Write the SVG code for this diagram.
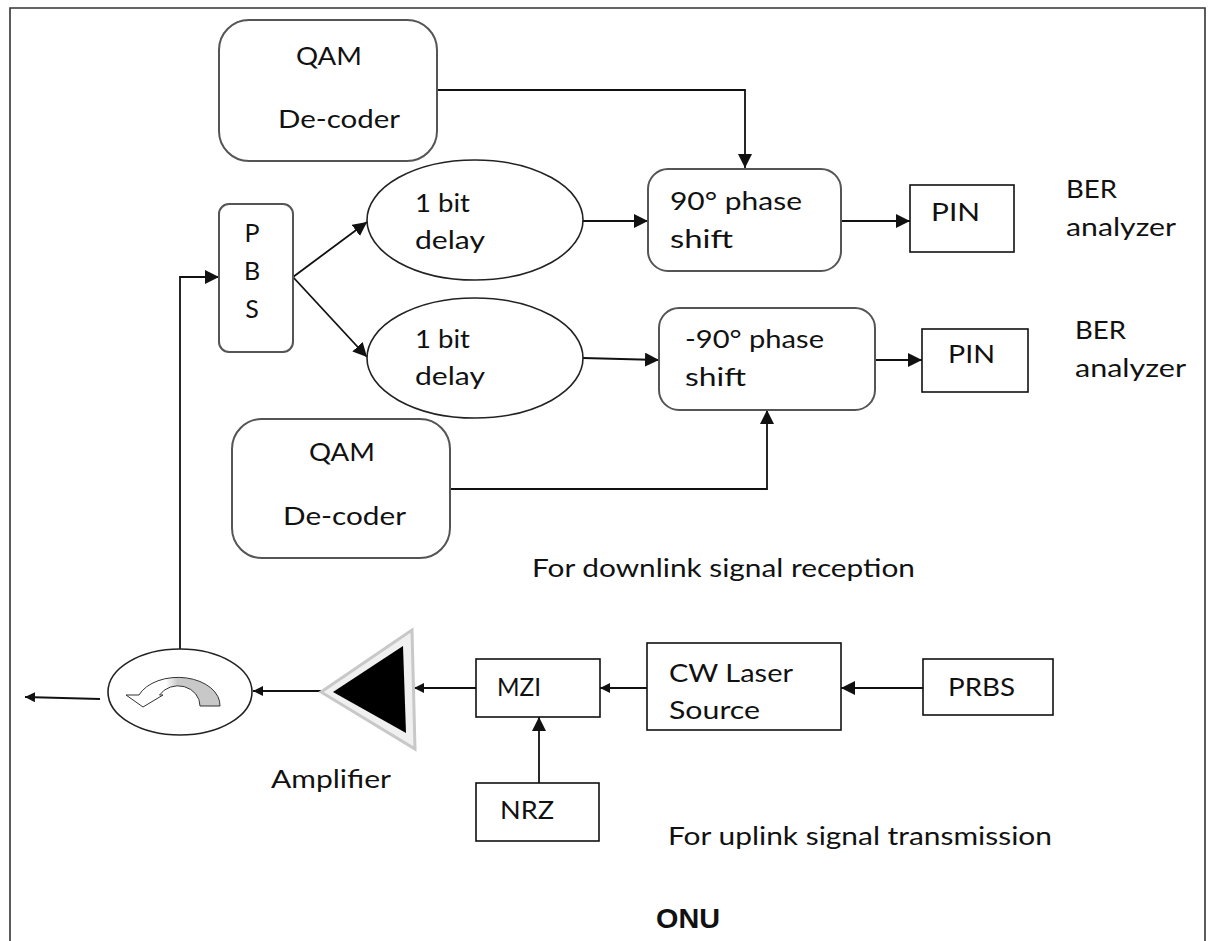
<svg xmlns="http://www.w3.org/2000/svg" width="1208" height="941" viewBox="0 0 1208 941">
<defs>
<style>
.t{font-family:Lato,"Open Sans","Liberation Sans",sans-serif;font-size:25px;fill:#111}
.rr{fill:#fff;stroke:#555;stroke-width:2}
.bx{fill:#fff;stroke:#111;stroke-width:1.6}
.ln{fill:none;stroke:#111;stroke-width:1.8}
</style>
<marker id="ah" viewBox="0 0 10 10" refX="10" refY="5" markerWidth="10" markerHeight="10" markerUnits="userSpaceOnUse" orient="auto">
<path d="M0,0 L10,5 L0,10 Z" fill="#111"/>
</marker>
<marker id="ahb" viewBox="0 0 10 10" refX="10" refY="5" markerWidth="14" markerHeight="14" markerUnits="userSpaceOnUse" orient="auto">
<path d="M0,0 L10,5 L0,10 Z" fill="#111"/>
</marker>
<linearGradient id="arcg" x1="0" y1="0" x2="1" y2="0">
<stop offset="0" stop-color="#fff"/>
<stop offset="0.42" stop-color="#fff"/>
<stop offset="0.55" stop-color="#c8c8c8"/>
<stop offset="1" stop-color="#c8c8c8"/>
</linearGradient>
</defs>
<rect x="0" y="0" width="1208" height="941" fill="#fff"/>
<path d="M10,945 L10,8 L1205,8 L1205,945" fill="none" stroke="#333" stroke-width="1.6"/>

<g id="connectors">
<path class="ln" d="M437,90 H745 V168" marker-end="url(#ahb)"/>
<path class="ln" d="M450,489 H767 V410" marker-end="url(#ahb)"/>
<path class="ln" d="M180,650 V277 H219" marker-end="url(#ahb)"/>
<path class="ln" d="M293,277 L367,222" marker-end="url(#ahb)"/>
<path class="ln" d="M293,277 L367,357" marker-end="url(#ahb)"/>
<path class="ln" d="M583,221 H648" marker-end="url(#ahb)"/>
<path class="ln" d="M583,358 L659,360" marker-end="url(#ahb)"/>
<path class="ln" d="M841,221 H910" marker-end="url(#ahb)"/>
<path class="ln" d="M875,360 H922" marker-end="url(#ahb)"/>
<path class="ln" d="M100,699 L25,697" marker-end="url(#ah)"/>
<path class="ln" d="M322,691 H253" marker-end="url(#ah)"/>
<path class="ln" d="M476,688 H414" marker-end="url(#ah)"/>
<path class="ln" d="M647,688 H600" marker-end="url(#ah)"/>
<path class="ln" d="M923,688 H841" marker-end="url(#ahb)"/>
<path class="ln" d="M539,783 V717" marker-end="url(#ahb)"/>
</g>

<g id="qam-top">
<rect class="rr" x="219" y="20" width="218" height="141" rx="30"/>
<text class="t" x="296" y="65" textLength="66" lengthAdjust="spacingAndGlyphs">QAM</text>
<text class="t" x="278" y="128" textLength="122" lengthAdjust="spacingAndGlyphs">De-coder</text>
</g>

<g id="pbs">
<rect class="rr" x="219" y="204" width="74" height="148" rx="10"/>
<text class="t" x="252" y="242" text-anchor="middle">P</text>
<text class="t" x="252" y="280" text-anchor="middle">B</text>
<text class="t" x="252" y="318" text-anchor="middle">S</text>
</g>

<g id="delay1">
<ellipse cx="475" cy="220" rx="108" ry="60" fill="#fff" stroke="#222" stroke-width="1.6"/>
<text class="t" x="415" y="212" textLength="55" lengthAdjust="spacingAndGlyphs">1 bit</text>
<text class="t" x="415" y="249" textLength="70" lengthAdjust="spacingAndGlyphs">delay</text>
</g>

<g id="delay2">
<ellipse cx="475" cy="358" rx="108" ry="60" fill="#fff" stroke="#222" stroke-width="1.6"/>
<text class="t" x="415" y="348" textLength="55" lengthAdjust="spacingAndGlyphs">1 bit</text>
<text class="t" x="415" y="385" textLength="70" lengthAdjust="spacingAndGlyphs">delay</text>
</g>

<g id="phase90">
<rect class="rr" x="648" y="169" width="193" height="102" rx="20"/>
<text class="t" x="670" y="210" textLength="132" lengthAdjust="spacingAndGlyphs">90° phase</text>
<text class="t" x="670" y="248" textLength="63" lengthAdjust="spacingAndGlyphs">shift</text>
</g>

<g id="phase-90">
<rect class="rr" x="659" y="308" width="216" height="102" rx="20"/>
<text class="t" x="685" y="348" textLength="139" lengthAdjust="spacingAndGlyphs">-90° phase</text>
<text class="t" x="685" y="386" textLength="61" lengthAdjust="spacingAndGlyphs">shift</text>
</g>

<g id="pin1">
<rect class="bx" x="910" y="185" width="104" height="67"/>
<text class="t" x="931" y="221" textLength="49" lengthAdjust="spacingAndGlyphs">PIN</text>
</g>

<g id="pin2">
<rect class="bx" x="922" y="329" width="106" height="63"/>
<text class="t" x="948" y="363" textLength="47" lengthAdjust="spacingAndGlyphs">PIN</text>
</g>

<g id="ber1">
<text class="t" x="1066" y="198" textLength="51" lengthAdjust="spacingAndGlyphs">BER</text>
<text class="t" x="1066" y="236" textLength="110" lengthAdjust="spacingAndGlyphs">analyzer</text>
</g>

<g id="ber2">
<text class="t" x="1075" y="339" textLength="51" lengthAdjust="spacingAndGlyphs">BER</text>
<text class="t" x="1075" y="377" textLength="111" lengthAdjust="spacingAndGlyphs">analyzer</text>
</g>

<g id="qam-bottom">
<rect class="rr" x="232" y="419" width="218" height="139" rx="30"/>
<text class="t" x="309" y="461" textLength="66" lengthAdjust="spacingAndGlyphs">QAM</text>
<text class="t" x="283" y="525" textLength="123" lengthAdjust="spacingAndGlyphs">De-coder</text>
</g>

<g id="downlink-label">
<text class="t" x="532" y="577" textLength="383" lengthAdjust="spacingAndGlyphs">For downlink signal reception</text>
</g>

<g id="circulator">
<ellipse cx="180" cy="692" rx="72" ry="43" fill="#fff" stroke="#222" stroke-width="1.6"/>
<path d="M220,706 A42,28 0 0 0 139,695 L126,695 L143,707 L163,695 L159.5,695 A22,20 0 0 1 200,706 Z" fill="url(#arcg)" stroke="#333" stroke-width="1"/>
</g>

<g id="amplifier">
<polygon points="321,692 412,630 415,749" fill="#f0f0f0" stroke="#c8c8c8" stroke-width="3"/>
<polygon points="333,692 403,646 406,733" fill="#000"/>
<text class="t" x="271" y="788" textLength="120" lengthAdjust="spacingAndGlyphs">Amplifier</text>
</g>

<g id="mzi">
<rect class="bx" x="476" y="659" width="124" height="58"/>
<text class="t" x="497" y="696" textLength="44" lengthAdjust="spacingAndGlyphs">MZI</text>
</g>

<g id="cw-laser">
<rect class="bx" x="647" y="643" width="194" height="87"/>
<text class="t" x="669" y="682" textLength="124" lengthAdjust="spacingAndGlyphs">CW Laser</text>
<text class="t" x="669" y="719" textLength="91" lengthAdjust="spacingAndGlyphs">Source</text>
</g>

<g id="prbs">
<rect class="bx" x="923" y="659" width="130" height="56"/>
<text class="t" x="948" y="696" textLength="67" lengthAdjust="spacingAndGlyphs">PRBS</text>
</g>

<g id="nrz">
<rect class="bx" x="476" y="783" width="123" height="58"/>
<text class="t" x="500" y="819" textLength="54" lengthAdjust="spacingAndGlyphs">NRZ</text>
</g>

<g id="uplink-label">
<text class="t" x="668" y="845" textLength="384" lengthAdjust="spacingAndGlyphs">For uplink signal transmission</text>
</g>

<g id="onu">
<text x="656" y="928" textLength="64" lengthAdjust="spacingAndGlyphs" font-family="'Liberation Sans',Arial,sans-serif" font-weight="bold" font-size="28" fill="#111">ONU</text>
</g>
</svg>
